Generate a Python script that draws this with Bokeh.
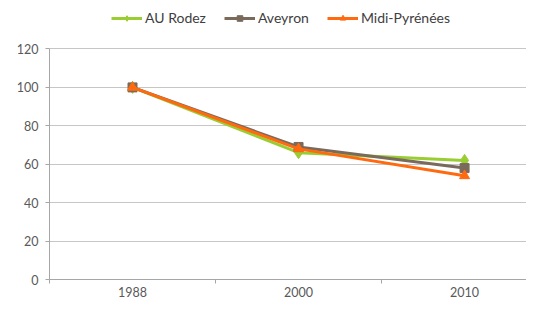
from bokeh.plotting import figure
from bokeh.models import Range1d, FixedTicker, Legend, LegendItem, ColumnDataSource
from bokeh.embed import file_html
from bokeh.resources import INLINE

years = ["1988", "2000", "2010"]
au_rodez = [100, 66, 62]
aveyron = [100, 69, 58]
midi_pyrenees = [100, 68, 54]
y_ticks = [0, 20, 40, 60, 80, 100, 120]

xs = list(range(len(years)))

p = figure(width=526, height=299, output_backend="svg", toolbar_location=None,
           x_range=Range1d(-0.5, 2.373), y_range=Range1d(0, 145.24),
           min_border_left=49, min_border_right=0, min_border_top=0, min_border_bottom=17)
p.outline_line_color = None
p.background_fill_color = "white"
p.border_fill_color = "white"

FONT = "Lato"
p.xaxis.ticker = FixedTicker(ticks=xs, minor_ticks=[-0.5, 0.5, 1.5, 2.5])
p.xaxis.major_label_overrides = {i: y for i, y in enumerate(years)}
p.xaxis.major_tick_in = 0
p.xaxis.major_tick_out = 0
p.xaxis.minor_tick_in = 0
p.xaxis.minor_tick_out = 4
p.xaxis.minor_tick_line_color = "#a6a6a6"
p.xaxis.axis_line_color = "#a6a6a6"
p.xaxis.major_label_standoff = 3
p.yaxis.ticker = FixedTicker(ticks=y_ticks)
p.yaxis.bounds = (0, 120)
p.yaxis.major_tick_in = 0
p.yaxis.major_tick_out = 4
p.yaxis.minor_tick_line_color = None
p.yaxis.major_tick_line_color = "#a6a6a6"
p.yaxis.axis_line_color = "#a6a6a6"
p.yaxis.major_label_standoff = 7
for ax in (p.xaxis[0], p.yaxis[0]):
    ax.major_label_text_font = FONT
    ax.major_label_text_font_size = "12.5px"
    ax.major_label_text_color = "#595959"
p.xgrid.grid_line_color = None
p.ygrid.ticker = FixedTicker(ticks=y_ticks)
p.ygrid.grid_line_color = "#c6c6c6"
p.ygrid.grid_line_width = 1

series = [
    ("AU Rodez", au_rodez, "#9acd32", "diamond", 12),
    ("Aveyron", aveyron, "#7a6a5c", "square", 9),
    ("Midi-Pyrénées", midi_pyrenees, "#ff6a10", "triangle", 10),
]
items = []
for name, vals, col, mk, sz in series:
    src = ColumnDataSource(dict(x=xs, y=vals))
    ln = p.line("x", "y", source=src, line_color=col, line_width=3)
    sc = p.scatter("x", "y", source=src, marker=mk, size=sz, fill_color=col, line_color=col)
    items.append(LegendItem(label=name, renderers=[ln, sc]))

legend = Legend(items=items, location=(62, 253), orientation="horizontal",
                glyph_width=31, glyph_height=14, label_standoff=3, spacing=18,
                padding=0, margin=0, border_line_color=None, background_fill_alpha=0,
                label_text_font=FONT, label_text_font_size="14px", label_text_color="#404040")
p.add_layout(legend, "center")

open("out.html", "w").write(file_html(p, INLINE))
